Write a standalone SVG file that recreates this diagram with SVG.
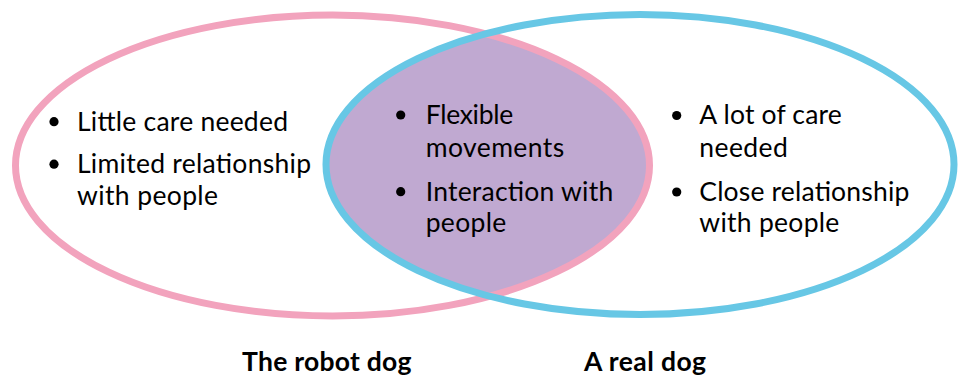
<svg xmlns="http://www.w3.org/2000/svg" width="960" height="376" viewBox="0 0 960 376">
<defs>
<style>
.t{font-family:Lato,"Open Sans","Liberation Sans",sans-serif;font-size:26.5px;fill:#000}
.b{font-family:Lato,"Open Sans","Liberation Sans",sans-serif;font-size:26.5px;font-weight:bold;fill:#000}
.dot{fill:#000}
.pink{fill:none;stroke:#F2A3BD;stroke-width:7}
.blue{fill:none;stroke:#67C7E5;stroke-width:7}
</style>
<clipPath id="clipPink">
<ellipse cx="332.5" cy="165.5" rx="317" ry="150.5"/>
</clipPath>
</defs>
<rect width="960" height="376" fill="#fff"/>
<g id="overlap-fill">
<ellipse cx="640" cy="164.5" rx="314" ry="150" fill="#C0A9D1" clip-path="url(#clipPink)"/>
</g>
<g id="robot-dog">
<ellipse class="pink" cx="332.5" cy="165.5" rx="317" ry="150.5"/>
</g>
<g id="real-dog">
<ellipse class="blue" cx="640" cy="164.5" rx="314" ry="150"/>
</g>
<g id="robot-dog-text">
<circle class="dot" cx="54" cy="121.7" r="4.6"/>
<text class="t" x="77" y="131" textLength="211">Little care needed</text>
<circle class="dot" cx="54" cy="164.2" r="4.6"/>
<text class="t" x="77" y="173.3" textLength="234">Limited relationship</text>
<text class="t" x="77" y="205" textLength="141">with people</text>
</g>
<g id="overlap-text">
<circle class="dot" cx="400.7" cy="115" r="4.6"/>
<text class="t" x="425.7" y="124.3" textLength="87.5">Flexible</text>
<text class="t" x="425.7" y="156.7" textLength="138.5">movements</text>
<circle class="dot" cx="400.7" cy="191.7" r="4.6"/>
<text class="t" x="425.7" y="201" textLength="187.5">Interaction with</text>
<text class="t" x="425.7" y="231.7" textLength="80.5">people</text>
</g>
<g id="real-dog-text">
<circle class="dot" cx="676.7" cy="115.5" r="4.6"/>
<text class="t" x="699.3" y="124.3" textLength="142.5">A lot of care</text>
<text class="t" x="699.3" y="156.7" textLength="88.5">needed</text>
<circle class="dot" cx="676.7" cy="192" r="4.6"/>
<text class="t" x="699.3" y="201" textLength="210">Close relationship</text>
<text class="t" x="699.3" y="231.7" textLength="140">with people</text>
</g>
<g id="labels">
<text class="b" x="242" y="371" textLength="169.5">The robot dog</text>
<text class="b" x="584" y="371" textLength="122">A real dog</text>
</g>
</svg>
